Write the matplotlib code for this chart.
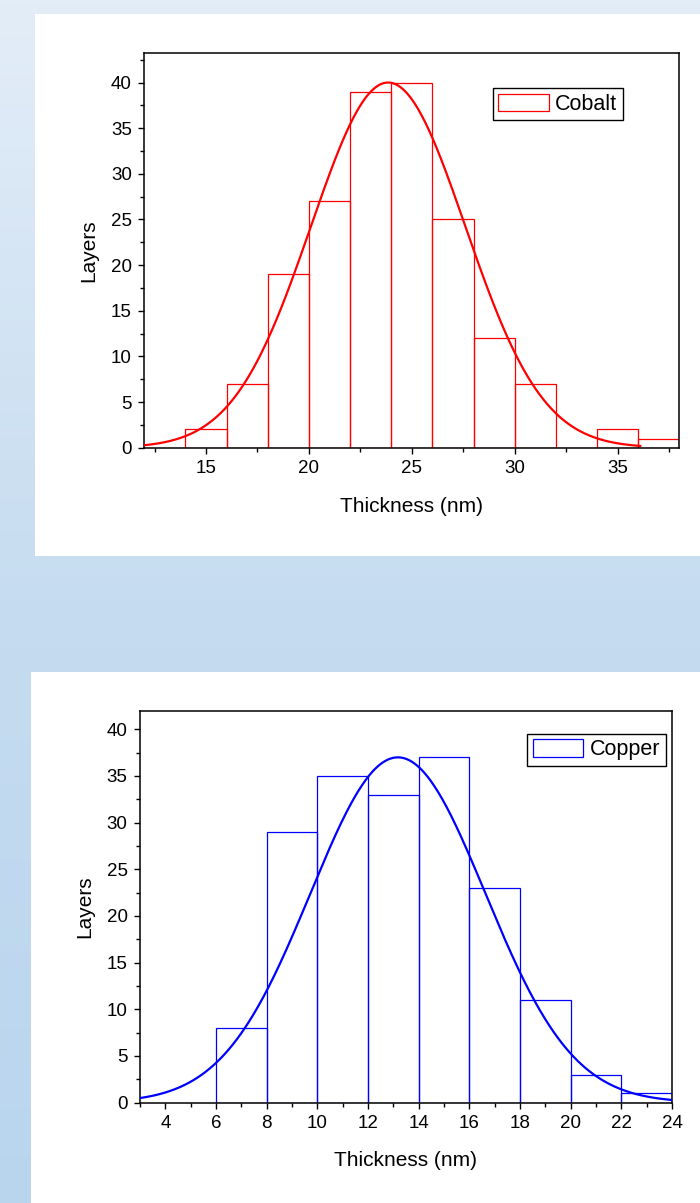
import numpy as np
import matplotlib
matplotlib.use("Agg")
import matplotlib.pyplot as plt
from matplotlib.patches import Rectangle
from matplotlib.ticker import MultipleLocator
from matplotlib.colors import LinearSegmentedColormap

plt.rcParams['font.family'] = ['Liberation Sans', 'DejaVu Sans']

# ---- data ----
cobalt_bin_left = [14, 16, 18, 20, 22, 24, 26, 28, 30, 32, 34, 36]
cobalt_counts = [2, 7, 19, 27, 39, 40, 25, 12, 7, 0, 2, 1]
cobalt_fit_amp, cobalt_fit_mu, cobalt_fit_sigma = 40.0, 23.85, 3.75
cobalt_fit_range = (12.0, 36.1)

copper_bin_left = [6, 8, 10, 12, 14, 16, 18, 20, 22]
copper_counts = [8, 29, 35, 33, 37, 23, 11, 3, 1]
copper_fit_amp, copper_fit_mu, copper_fit_sigma = 37.0, 13.18, 3.45
copper_fit_range = (3.0, 24.0)

bin_width = 2
xlabel = "Thickness (nm)"
ylabel = "Layers"

W, H = 700, 1203
fig = plt.figure(figsize=(W / 100, H / 100), dpi=100)

# background gradient
bg = fig.add_axes([0, 0, 1, 1], zorder=-10)
cmap = LinearSegmentedColormap.from_list("bg", ["#e3edf8", "#c6dcf0", "#b9d5ee"])
grad = np.linspace(0, 1, 256).reshape(-1, 1)
bg.imshow(grad, aspect="auto", cmap=cmap, extent=[0, 1, 0, 1], origin="upper")
bg.set_xlim(0, 1); bg.set_ylim(0, 1)
bg.axis("off")

# white panels (figure pixel coords)
def fig_rect(x0, y0, x1, y1):
    return Rectangle((x0 / W, 1 - y1 / H), (x1 - x0) / W, (y1 - y0) / H,
                     transform=fig.transFigure, facecolor="white",
                     edgecolor="none", zorder=-5)

fig.patches.append(fig_rect(35, 14, 700, 556))
fig.patches.append(fig_rect(31, 672, 700, 1203))


def gauss(x, a, mu, s):
    return a * np.exp(-(x - mu) ** 2 / (2 * s ** 2))


def make_panel(rect, left, counts, color, label, fit, frange, xlim, ylim,
               xmaj, xmin_, leg_anchor):
    ax = fig.add_axes(rect)
    ax.bar(left, counts, width=bin_width, align="edge", facecolor="none",
           edgecolor=color, linewidth=0.9, label=label, zorder=2)
    xs = np.linspace(frange[0], frange[1], 400)
    ax.plot(xs, gauss(xs, *fit), color=color, linewidth=1.6, zorder=3,
            clip_on=True)
    ax.set_xlim(*xlim)
    ax.set_ylim(*ylim)
    ax.xaxis.set_major_locator(MultipleLocator(xmaj))
    ax.xaxis.set_minor_locator(MultipleLocator(xmin_))
    ax.yaxis.set_major_locator(MultipleLocator(5))
    ax.yaxis.set_minor_locator(MultipleLocator(2.5))
    ax.tick_params(which="both", direction="out", top=False, right=False,
                   width=1.0, colors="black")
    ax.tick_params(which="major", length=4.5, labelsize=13.5, pad=4.5)
    ax.tick_params(which="minor", length=2.8)
    for sp in ax.spines.values():
        sp.set_linewidth(1.1)
        sp.set_color("black")
    ax.set_xlabel(xlabel, fontsize=15, labelpad=14)
    ax.set_ylabel(ylabel, fontsize=15, labelpad=9)
    leg = ax.legend(loc="upper right", bbox_to_anchor=leg_anchor,
                    borderaxespad=0, fontsize=15.5, fancybox=False,
                    framealpha=1, edgecolor="black", handlelength=2.35,
                    handleheight=0.85, handletextpad=0.3, borderpad=0.25)
    leg.get_frame().set_linewidth(1.0)
    return ax


make_panel([144.3 / W, 1 - 447.7 / H, 535 / W, 394.4 / H],
           cobalt_bin_left, cobalt_counts, "#ff0000", "Cobalt",
           (cobalt_fit_amp, cobalt_fit_mu, cobalt_fit_sigma), cobalt_fit_range,
           (12, 38), (0, 43.2), 5, 2.5, (0.894, 0.911))

make_panel([140 / W, 1 - 1102.5 / H, 532 / W, 391.8 / H],
           copper_bin_left, copper_counts, "#0000ff", "Copper",
           (copper_fit_amp, copper_fit_mu, copper_fit_sigma), copper_fit_range,
           (3, 24), (0, 42), 2, 1, (0.988, 0.9405))

fig.savefig("out.png", dpi=100)
